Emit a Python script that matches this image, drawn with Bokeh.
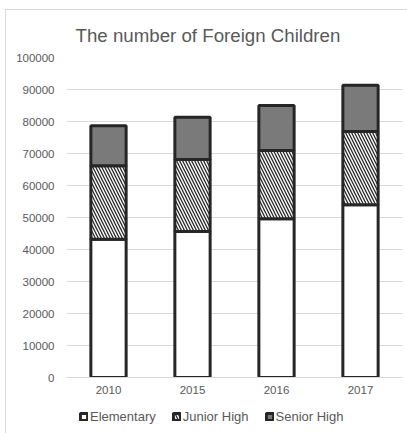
from bokeh.plotting import figure
from bokeh.models import (ColumnDataSource, SingleIntervalTicker, BasicTickFormatter,
                          Legend, LegendItem, Title, Range1d, FactorRange)
from bokeh.layouts import column
from bokeh.embed import file_html
from bokeh.resources import INLINE

years = ["2010", "2015", "2016", "2017"]
elementary = [43200, 45600, 49600, 54000]
junior_high = [23000, 22500, 21300, 22900]
senior_high = [12500, 13200, 14100, 14400]
series = ["Elementary", "Junior High", "Senior High"]
y_tick_interval = 10000
y_max = 100000

FONT = "Liberation Sans"
GREY_TXT = "#595959"
GRID = "#d9d9d9"
EDGE = "#262626"
fills = ["white", "white", "#7a7a7a"]
hatches = [" ", "left_diagonal_line", " "]

src = ColumnDataSource(dict(year=years, elem=elementary, junior=junior_high, senior=senior_high))

p = figure(x_range=years, y_range=Range1d(0, y_max), width=402, height=400,
           output_backend="svg", toolbar_location=None,
           min_border_left=60, min_border_right=6, min_border_top=47, min_border_bottom=33)
p.margin = (9, 0, 0, 5)
p.styles = {"border-left": "1px solid #d9d9d9", "border-top": "1px solid #d9d9d9"}
p.outline_line_color = None
p.background_fill_color = "white"
p.border_fill_color = "white"

renderers = p.vbar_stack(["elem", "junior", "senior"], x="year", width=0.42, source=src,
                         fill_color=fills, hatch_pattern=hatches,
                         hatch_color=EDGE, hatch_scale=6, hatch_weight=1.3,
                         line_color=EDGE, line_width=3)

title = Title(text="The number of Foreign Children", align="left", offset=9,
              text_font=FONT, text_font_size="18.7px", text_color=GREY_TXT,
              text_font_style="normal", text_line_height=1.0, standoff=24)
p.add_layout(title, "above")

p.yaxis.ticker = SingleIntervalTicker(interval=y_tick_interval)
p.yaxis.formatter = BasicTickFormatter(use_scientific=False)
p.yaxis.axis_line_color = None
p.yaxis.major_tick_line_color = None
p.yaxis.minor_tick_line_color = None
p.yaxis.major_label_standoff = 6
p.yaxis.major_label_text_font = FONT
p.yaxis.major_label_text_font_size = "11.5px"
p.yaxis.major_label_text_color = GREY_TXT

p.xaxis.axis_line_color = GRID
p.xaxis.major_tick_line_color = None
p.xaxis.minor_tick_line_color = None
p.xaxis.major_label_standoff = 2
p.xaxis.major_label_text_font = FONT
p.xaxis.major_label_text_font_size = "11.5px"
p.xaxis.major_label_text_color = GREY_TXT

p.xgrid.grid_line_color = None
p.ygrid.grid_line_color = GRID
p.ygrid.grid_line_width = 1

# legend strip below the chart (its bars are hidden, only the legend shows)
p2 = figure(x_range=FactorRange(*years), y_range=Range1d(-2 * y_max, -y_max), width=402, height=24,
            output_backend="svg", toolbar_location=None,
            min_border_left=0, min_border_right=0, min_border_top=0, min_border_bottom=0)
p2.margin = (0, 0, 0, 5)
p2.styles = {"border-left": "1px solid #d9d9d9"}
p2.axis.visible = False
p2.grid.visible = False
p2.outline_line_color = None
p2.border_fill_color = "white"

leg_renderers = p2.vbar_stack(["elem", "junior", "senior"], x="year", width=0.42, source=src,
                              fill_color=fills, hatch_pattern=hatches,
                              hatch_color=EDGE, hatch_scale=6, hatch_weight=1.3,
                              line_color=EDGE, line_width=3)
for r in leg_renderers:
    r.visible = False

legend = Legend(items=[LegendItem(label=s, renderers=[r]) for s, r in zip(series, leg_renderers)],
                orientation="horizontal", location=(13, 9),
                label_text_font=FONT, label_text_font_size="13px", label_text_color=GREY_TXT,
                glyph_width=9, glyph_height=9, label_height=13, label_standoff=2,
                spacing=16, padding=0, margin=0, border_line_color=None,
                background_fill_alpha=0, inactive_fill_alpha=0)
p2.add_layout(legend)

layout = column(p, p2, spacing=0)
open("out.html", "w").write(file_html(layout, INLINE))
